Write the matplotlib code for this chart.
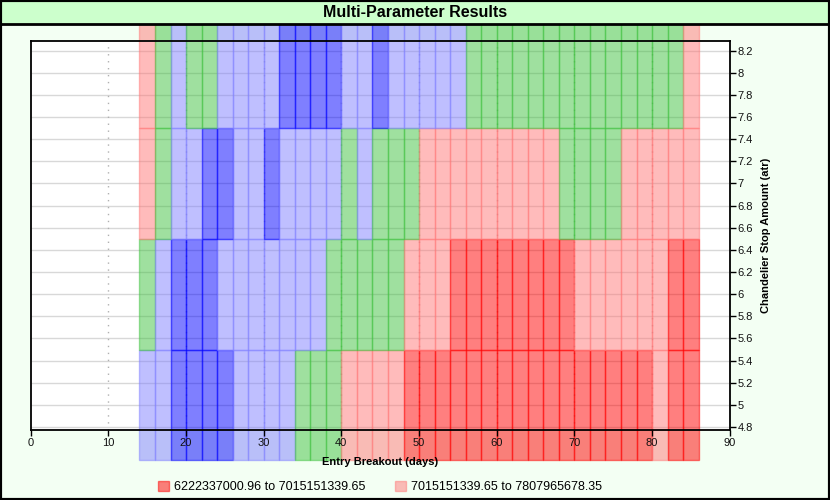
import matplotlib
matplotlib.use("Agg")
import matplotlib.pyplot as plt
from matplotlib.patches import Rectangle
import numpy as np

plt.rcParams['font.family'] = ['Liberation Sans', 'DejaVu Sans']

# ---- data ----
entry_breakout = list(range(14, 86, 2))          # left edge of each column (days)
stop_amounts = [5, 6, 7, 8]                         # row centres (atr)
# bin index of each cell: 0 = lowest result bin ... 4 = highest
bins_5 = [3, 3, 4, 4, 4, 4, 3, 3, 3, 3, 2, 2, 2, 1, 1, 1, 1,
          0, 0, 0, 0, 0, 0, 0, 0, 0, 0, 0, 0, 0, 0, 0, 0, 1, 0, 0]
bins_6 = [2, 3, 4, 4, 4, 3, 3, 3, 3, 3, 3, 3, 2, 2, 2, 2, 2,
          1, 1, 1, 0, 0, 0, 0, 0, 0, 0, 0, 1, 1, 1, 1, 1, 1, 0, 0]
bins_7 = [1, 2, 3, 3, 4, 4, 3, 3, 4, 3, 3, 3, 3, 2, 3, 2, 2, 2,
          1, 1, 1, 1, 1, 1, 1, 1, 1, 2, 2, 2, 2, 1, 1, 1, 1, 1]
bins_8 = [1, 2, 3, 2, 2, 3, 3, 3, 3, 4, 4, 4, 4, 3, 3, 4, 3, 3, 3, 3, 3,
          2, 2, 2, 2, 2, 2, 2, 2, 2, 2, 2, 2, 2, 2, 1]
grid_bins = [bins_5, bins_6, bins_7, bins_8]
legend_labels = ["6222337000.96 to 7015151339.65",
                 "7015151339.65 to 7807965678.35"]
x_ticks = list(range(0, 100, 10))
y_ticks = [round(4.8 + 0.2 * k, 1) for k in range(18)]

# ---- style ----
base_colors = [(1.0, 0.0, 0.0), (1.0, 0.47, 0.47), (0.25, 0.76, 0.25),
               (0.5, 0.5, 1.0), (0.0, 0.0, 1.0)]
ALPHA = 0.5

W, H = 830, 500
fig = plt.figure(figsize=(W / 100, H / 100), dpi=100, facecolor='#f3fff3')

ax_l, ax_r, ax_t, ax_b = 30.7, 729.7, 40.5, 430
ax = fig.add_axes([ax_l / W, 1 - ax_b / H, (ax_r - ax_l) / W, (ax_b - ax_t) / H])
ax.set_facecolor('white')
ax.set_xlim(0, 90)
ax.set_ylim(4.773, 8.291)

# gridlines
ax.hlines(y_ticks, 0, 90, colors='#d8d8d8', linewidth=1, zorder=0.5)
ax.vlines(x_ticks[1:-1], 4.773, 8.291, colors='#b0b0b0', linewidth=1,
          linestyles=(0, (1, 4)), zorder=0.6)

# cells
for yc, row in zip(stop_amounts, grid_bins):
    face = [base_colors[b] + (ALPHA,) for b in row]
    edge = [base_colors[b] + (ALPHA,) for b in row]
    ax.bar(entry_breakout, 1.0, width=2.0, bottom=yc - 0.5, align='edge',
           color=face, edgecolor=edge, linewidth=1.0, clip_on=False, zorder=1)

# axes styling
for s in ax.spines.values():
    s.set_linewidth(1.3)
    s.set_color('black')
    s.set_zorder(3)
ax.yaxis.tick_right()
ax.yaxis.set_label_position('right')
ax.set_xticks(x_ticks)
ax.set_yticks(y_ticks)
ax.set_yticklabels([('%g' % v) for v in y_ticks])
ax.tick_params(axis='both', direction='out', length=4, width=1, color='black',
               labelsize=8, labelcolor='#111111', pad=1.5)
ax.set_xlabel('Entry Breakout (days)', fontsize=8, fontweight='bold', labelpad=7)
ax.set_ylabel('Chandelier Stop Amount (atr)', fontsize=8, fontweight='bold', labelpad=6)
ax.xaxis.label.set_zorder(4)

# title band
fig.patches.append(Rectangle((0, 1 - 24 / H), 1, 24 / H, transform=fig.transFigure,
                             facecolor='#ccffcc', edgecolor='black', linewidth=2, zorder=5))
fig.text(0.5, 1 - 12.5 / H, 'Multi-Parameter Results', ha='center', va='center',
         fontsize=11.5, fontweight='bold', zorder=6)

# legend
leg_handles = [Rectangle((0, 0), 1, 1, facecolor=base_colors[i] + (ALPHA,),
                         edgecolor=base_colors[i] + (ALPHA,)) for i in range(2)]
fig.legend(leg_handles, legend_labels, loc='center', ncol=2,
           bbox_to_anchor=(380 / W, 1 - 487 / H), frameon=False, fontsize=9,
           handlelength=0.9, handleheight=0.9, handletextpad=0.4, columnspacing=2.3)

# figure border
fig.patches.append(Rectangle((0, 0), 1, 1, transform=fig.transFigure, fill=False,
                             edgecolor='black', linewidth=3, zorder=7))

fig.savefig('out.png', dpi=100, facecolor=fig.get_facecolor())
